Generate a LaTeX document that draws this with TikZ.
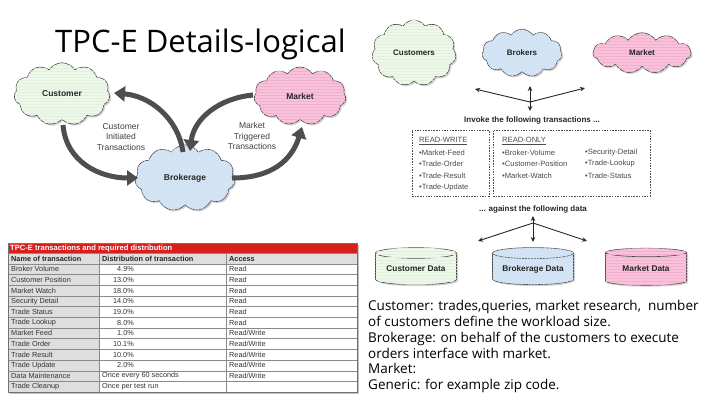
\documentclass[tikz,border=0pt]{standalone}
\usepackage{fontspec}
\setmainfont{Liberation Sans}
\newfontfamily\notefont{Open Sans}
\usetikzlibrary{shapes.symbols,shapes.geometric,arrows.meta,shadows,patterns}

\definecolor{cgreen}{HTML}{EEF8EA}
\definecolor{cblue}{HTML}{DCEAF8}
\definecolor{cpink}{HTML}{F8C2DA}
\definecolor{hgreen}{HTML}{E2F0DC}
\definecolor{hblue}{HTML}{C2D6EE}
\definecolor{hpink}{HTML}{F2B0CE}
\definecolor{arrowgray}{HTML}{4E4E4E}
\definecolor{tred}{HTML}{D6201E}
\definecolor{tgray}{HTML}{DEDEDE}
\definecolor{tline}{HTML}{8A8A8A}
\definecolor{txt}{HTML}{333333}

\tikzset{
  shadowed/.style={drop shadow={opacity=0.35, shadow xshift=1.5pt, shadow yshift=-1.5pt}},
  cloudbox/.style={cloud, cloud puffs=11, cloud puff arc=115, draw=black!70, line width=0.6pt,
    inner sep=0pt, text=black!85, shadowed},
  bigfont/.style={font=\bfseries\fontsize{8.5}{10}\selectfont},
  smallcloudfont/.style={font=\bfseries\fontsize{8}{10}\selectfont},
  greenfill/.style={fill=cgreen, postaction={pattern=horizontal lines, pattern color=hgreen}},
  bluefill/.style={fill=cblue, postaction={pattern=north east lines, pattern color=hblue}},
  pinkfill/.style={fill=cpink, postaction={pattern=horizontal lines, pattern color=hpink}},
  bigarrow/.style={draw=arrowgray, line width=5pt, -{Triangle[length=11pt,width=15pt]}},
  thinarrow/.style={draw=black!85, line width=0.9pt, -{Stealth[length=5pt,width=4.5pt]}},
  dblarrow/.style={draw=black!85, line width=0.9pt, {Stealth[length=5pt,width=4.5pt]}-{Stealth[length=5pt,width=4.5pt]}},
  lbl/.style={font=\fontsize{8.5}{10.5}\selectfont, text=black!75, align=center},
  boldlbl/.style={font=\bfseries\fontsize{8}{10}\selectfont, text=black!85},
  dbox/.style={draw=black!70, dash pattern=on 1.5pt off 1.2pt, line width=0.6pt},
  boxtxt/.style={font=\fontsize{7.6}{9}\selectfont, text=black!70, anchor=west, inner sep=0pt},
  cyl/.style={cylinder, shape border rotate=90, shape aspect=0.18, draw=black!70, line width=0.6pt,
    minimum width=81pt, minimum height=37pt, inner sep=0pt, font=\bfseries\fontsize{8.3}{10}\selectfont,
    text=black!85, shadowed},
  tcell/.style={font=\fontsize{7.3}{8.5}\selectfont, text=txt, inner sep=0pt},
  thead/.style={font=\bfseries\fontsize{7.3}{8.5}\selectfont, text=black!85, inner sep=0pt, anchor=west},
  note/.style={font=\notefont\fontsize{13.5}{16}\selectfont, anchor=base west, inner sep=0pt},
}

\newcommand\trow[6]{%
  \pgfmathsetmacro\ry{264+(#1-0.5)*10.67}
  \node[tcell, anchor=west] (n#1) at (11,\ry) {#2};
  \node[tcell, anchor=#4] (d#1) at (#5,\ry) {#3};
  \node[tcell, anchor=west] (a#1) at (229,\ry) {#6};
}

\begin{document}
\begin{tikzpicture}[x=1pt,y=-1pt]
\useasboundingbox[fill=white] (0,0) rectangle (720,405);

% Title
\node[anchor=base west, inner sep=0pt, font=\notefont\fontsize{31}{36}\selectfont] (title) at (55,52) {TPC-E Details-logical};

% ---------- Left cloud diagram ----------
\node[cloudbox, greenfill, bigfont, minimum width=96pt, minimum height=62pt] (cust) at (62,94) {Customer};
\node[cloudbox, pinkfill, bigfont, minimum width=92pt, minimum height=58pt] (mark) at (300,96) {Market};
\node[cloudbox, bluefill, bigfont, minimum width=100pt, minimum height=58pt] (brok) at (185,178) {Brokerage};

\coordinate (c1) at (63,125);
\coordinate (b1) at (138,178);
\coordinate (b2) at (183,152);
\coordinate (c2) at (114,93);
\coordinate (m1) at (253,95);
\coordinate (b3) at (190,151);
\coordinate (b4) at (232,178);
\coordinate (m2) at (302,127);

\draw[bigarrow] (c1) .. controls (66,162) and (100,178) .. (b1);
\draw[bigarrow] (b2) .. controls (178,118) and (150,96) .. (c2);
\draw[bigarrow] (m1) .. controls (220,98) and (194,118) .. (b3);
\draw[bigarrow] (b4) .. controls (272,178) and (292,160) .. (m2);

\node[lbl] (cit) at (121,137) {Customer\\Initiated\\Transactions};
\node[lbl] (mtt) at (252,136) {Market\\Triggered\\Transactions};

% ---------- Right diagram ----------
\node[cloudbox, greenfill, smallcloudfont, minimum width=84pt, minimum height=36pt] (cust2) at (414,53) {Customers};
\node[cloudbox, bluefill, smallcloudfont, minimum width=80pt, minimum height=36pt] (brok2) at (522,53) {Brokers};
\node[cloudbox, pinkfill, smallcloudfont, minimum width=98pt, minimum height=36pt] (mark2) at (642,53) {Market};

\coordinate (j1) at (530,102);
\coordinate (t1) at (475,89);
\coordinate (t2) at (585,88);
\coordinate (t3) at (530,86);
\coordinate (t4) at (530,111);
\draw[thinarrow] (j1) -- (t1);
\draw[thinarrow] (j1) -- (t2);
\draw[dblarrow] (t4) -- (t3);

\node[boldlbl] (invoke) at (532,120) {Invoke the following transactions ...};

\node[dbox, minimum width=77pt, minimum height=66pt, inner sep=0pt] (rwbox) at (450.5,163) {};
\node[dbox, minimum width=157pt, minimum height=66pt, inner sep=0pt] (robox) at (571.5,163) {};

\node[boxtxt] (rwh) at (419,141) {\underline{READ-WRITE}};
\node[boxtxt] (rw1) at (419,152.5) {•Market-Feed};
\node[boxtxt] (rw2) at (419,164) {•Trade-Order};
\node[boxtxt] (rw3) at (419,175.5) {•Trade-Result};
\node[boxtxt] (rw4) at (419,187.5) {•Trade-Update};

\node[boxtxt] (roh) at (502,141) {\underline{READ-ONLY}};
\node[boxtxt] (ro1) at (502,152.5) {•Broker-Volume};
\node[boxtxt] (ro2) at (502,164) {•Customer-Position};
\node[boxtxt] (ro3) at (502,175.5) {•Market-Watch};
\node[boxtxt] (ro4) at (585,152.5) {•Security-Detail};
\node[boxtxt] (ro5) at (585,164) {•Trade-Lookup};
\node[boxtxt] (ro6) at (585,175.5) {•Trade-Status};

\node[boldlbl] (against) at (533,209) {... against the following data};

\coordinate (j2) at (533,223);
\coordinate (u1) at (478,241);
\coordinate (u2) at (587,241);
\coordinate (u3) at (533,216);
\coordinate (u4) at (533,242);
\draw[thinarrow] (j2) -- (u1);
\draw[thinarrow] (j2) -- (u2);
\draw[dblarrow] (u3) -- (u4);

\node[cyl, greenfill] (cdata) at (416,269) {Customer Data};
\node[cyl, bluefill] (bdata) at (533,269) {Brokerage Data};
\node[cyl, pinkfill] (mdata) at (646,269) {Market Data};

% ---------- Table ----------
\fill[black!25] (9.5,244.5) rectangle (358.5,393.5);
\fill[tred] (8,243) rectangle (357,253.5);
\fill[tgray] (8,253.5) rectangle (357,264);
\fill[tgray] (8,264) rectangle (99,392);
\fill[white] (99,264) rectangle (357,392);
\foreach \k in {0,...,12} {
  \draw[tline, line width=0.4pt] (8,264+\k*10.67) -- (357,264+\k*10.67);
}
\draw[tline, line width=0.4pt] (8,253.5) -- (357,253.5);
\draw[tline, line width=0.4pt] (99,253.5) -- (99,392);
\draw[tline, line width=0.4pt] (226,253.5) -- (226,392);
\draw[black!55, line width=0.7pt] (8,243) rectangle (357,392);

\node[font=\bfseries\fontsize{7.6}{8}\selectfont, text=white, anchor=west, inner sep=0pt] (ttitle) at (10,248.3) {TPC-E transactions and required distribution};
\node[thead] (h1) at (11,258.8) {Name of transaction};
\node[thead] (h2) at (102,258.8) {Distribution of transaction};
\node[thead] (h3) at (229,258.8) {Access};

\trow{1}{Broker Volume}{4.9\%}{east}{134}{Read}
\trow{2}{Customer Position}{13.0\%}{east}{134}{Read}
\trow{3}{Market Watch}{18.0\%}{east}{134}{Read}
\trow{4}{Security Detail}{14.0\%}{east}{134}{Read}
\trow{5}{Trade Status}{19.0\%}{east}{134}{Read}
\trow{6}{Trade Lookup}{8.0\%}{east}{134}{Read}
\trow{7}{Market Feed}{1.0\%}{east}{134}{Read/Write}
\trow{8}{Trade Order}{10.1\%}{east}{134}{Read/Write}
\trow{9}{Trade Result}{10.0\%}{east}{134}{Read/Write}
\trow{10}{Trade Update}{2.0\%}{east}{134}{Read/Write}
\trow{11}{Data Maintenance}{Once every 60 seconds}{west}{102}{Read/Write}
\trow{12}{Trade Cleanup}{Once per test run}{west}{102}{}

% ---------- Notes ----------
\node[note] (n1) at (368,310) {Customer: trades,queries, market research,\ \ number};
\node[note] (n2) at (368,326) {of customers define the workload size.};
\node[note] (n3) at (368,342) {Brokerage: on behalf of the customers to execute};
\node[note] (n4) at (368,358) {orders interface with market.};
\node[note] (n5) at (368,373.5) {Market:};
\node[note] (n6) at (368,389) {Generic: for example zip code.};
\end{tikzpicture}
\end{document}
